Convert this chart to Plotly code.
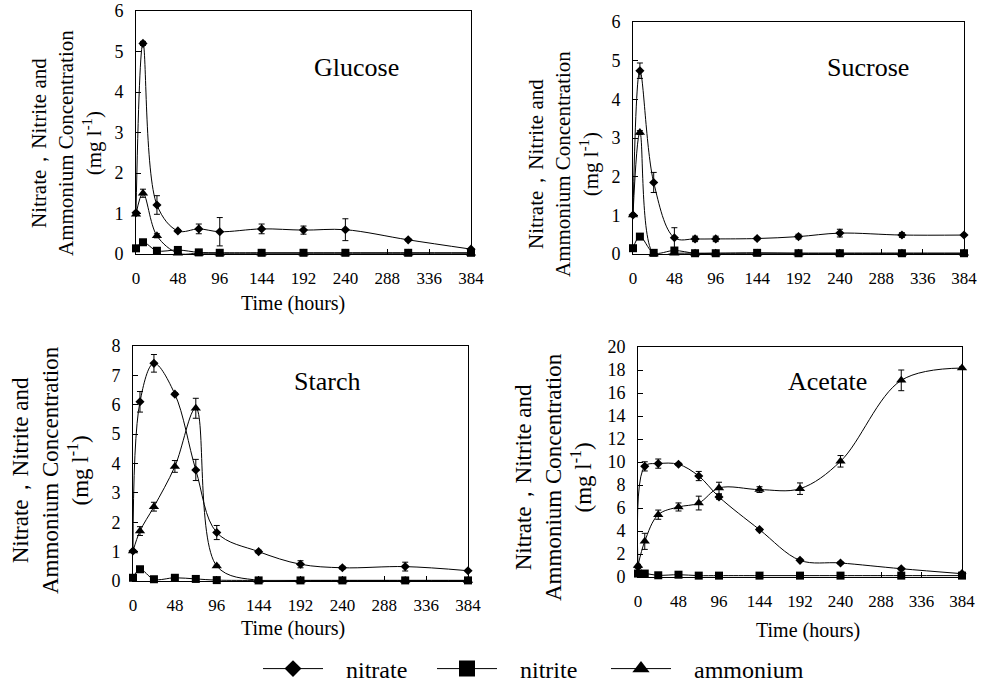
import plotly.graph_objects as go

times = [0, 8, 24, 48, 72, 96, 144, 192, 240, 312, 384]
x_ticks = [0, 48, 96, 144, 192, 240, 288, 336, 384]

# Glucose
glu_nitrate = [1.02, 5.2, 1.21, 0.57, 0.62, 0.55, 0.62, 0.59, 0.6, 0.35, 0.12]
glu_nitrate_err = [0.03, 0.05, 0.23, 0.03, 0.12, 0.35, 0.12, 0.1, 0.27, 0.03, 0.02]
glu_nitrite = [0.14, 0.29, 0.08, 0.1, 0.04, 0.03, 0.03, 0.03, 0.03, 0.03, 0.03]
glu_ammonium = [0.98, 1.5, 0.45, 0.02, 0.02, 0.02, 0.02, 0.02, 0.02, 0.02, 0.02]
glu_ammonium_err = [0.03, 0.1, 0.05, 0, 0, 0, 0, 0, 0, 0, 0]

# Sucrose
suc_nitrate = [1.01, 4.74, 1.85, 0.42, 0.39, 0.39, 0.4, 0.45, 0.54, 0.49, 0.49]
suc_nitrate_err = [0.03, 0.2, 0.26, 0.26, 0.07, 0.07, 0.03, 0.06, 0.1, 0.06, 0.02]
suc_nitrite = [0.15, 0.45, 0.03, 0.09, 0.02, 0.02, 0.03, 0.02, 0.02, 0.02, 0.02]
suc_ammonium = [1.01, 3.14, 0.0, 0.02, 0.02, 0.02, 0.02, 0.02, 0.02, 0.02, 0.02]
suc_ammonium_err = [0.03, 0.05, 0, 0, 0, 0, 0, 0, 0, 0, 0]

# Starch
sta_nitrate = [1.02, 6.1, 7.41, 6.36, 3.78, 1.65, 1.0, 0.57, 0.45, 0.49, 0.35]
sta_nitrate_err = [0.03, 0.35, 0.3, 0.05, 0.36, 0.24, 0.05, 0.12, 0.05, 0.15, 0.03]
sta_nitrite = [0.11, 0.4, 0.06, 0.11, 0.07, 0.03, 0.02, 0.02, 0.02, 0.02, 0.02]
sta_ammonium = [1.02, 1.7, 2.53, 3.9, 5.88, 0.51, 0.02, 0.02, 0.02, 0.02, 0.02]
sta_ammonium_err = [0.03, 0.15, 0.15, 0.2, 0.34, 0.03, 0, 0, 0, 0, 0]

# Acetate
ace_nitrate = [0.87, 9.62, 9.86, 9.8, 8.78, 6.96, 4.12, 1.45, 1.22, 0.72, 0.29]
ace_nitrate_err = [0.1, 0.4, 0.4, 0.1, 0.4, 0.2, 0.1, 0.1, 0.1, 0.1, 0.1]
ace_nitrite = [0.3, 0.3, 0.15, 0.2, 0.12, 0.12, 0.12, 0.12, 0.12, 0.12, 0.12]
ace_ammonium = [1.0, 3.1, 5.42, 6.09, 6.43, 7.74, 7.6, 7.68, 10.06, 17.1, 18.17]
ace_ammonium_err = [0.1, 0.7, 0.4, 0.35, 0.6, 0.5, 0.25, 0.5, 0.5, 0.9, 0.1]

panels = [
    ("Glucose", glu_nitrate, glu_nitrate_err, glu_nitrite, glu_ammonium, glu_ammonium_err, 6, 1),
    ("Sucrose", suc_nitrate, suc_nitrate_err, suc_nitrite, suc_ammonium, suc_ammonium_err, 6, 1),
    ("Starch", sta_nitrate, sta_nitrate_err, sta_nitrite, sta_ammonium, sta_ammonium_err, 8, 1),
    ("Acetate", ace_nitrate, ace_nitrate_err, ace_nitrite, ace_ammonium, ace_ammonium_err, 20, 2),
]

W, H = 982, 682
# plot-area pixel boxes: (left, right, top, bottom)
boxes = [(136, 471, 11, 254), (633, 964, 22, 254), (133, 468, 346, 581), (638, 962, 347, 577)]

FONT = "Liberation Serif"
fig = go.Figure()

for i, (name, nit, nit_e, nitr, amm, amm_e, ymax, dt) in enumerate(panels):
    xa = "x" if i == 0 else f"x{i+1}"
    ya = "y" if i == 0 else f"y{i+1}"
    common = dict(x=times, mode="lines+markers", line=dict(color="black", width=1, shape="spline"),
                  xaxis=xa, yaxis=ya, showlegend=False, cliponaxis=False)
    fig.add_trace(go.Scatter(y=nit, name="nitrate",
                             marker=dict(symbol="diamond", size=7, color="black"),
                             error_y=dict(type="data", array=nit_e, color="black", thickness=1, width=3),
                             **common))
    fig.add_trace(go.Scatter(y=nitr, name="nitrite",
                             marker=dict(symbol="square", size=8, color="black"),
                             **common))
    fig.add_trace(go.Scatter(y=amm, name="ammonium",
                             marker=dict(symbol="triangle-up", size=9, color="black"),
                             error_y=dict(type="data", array=amm_e, color="black", thickness=1, width=3),
                             **common))

# legend-only entries (leading non-breaking spaces set the symbol-to-text gap)
NB = "\u00a0\u00a0\u00a0"
for nm, sym, sz in [("nitrate", "diamond", 13), ("nitrite", "square", 16), ("ammonium", "triangle-up", 15)]:
    fig.add_trace(go.Scatter(x=[None], y=[None], name=NB + nm, mode="lines+markers",
                             line=dict(color="black", width=1),
                             marker=dict(symbol=sym, size=sz, color="black"), showlegend=True))
# empty, invisible spacer entry so the last legend label is not clipped
fig.add_trace(go.Scatter(x=[None], y=[None], name=" ", mode="markers",
                         marker=dict(color="rgba(0,0,0,0)", size=1), showlegend=True, hoverinfo="skip"))

layout = dict(width=W, height=H, margin=dict(l=0, r=0, t=0, b=0, autoexpand=False),
              paper_bgcolor="white", plot_bgcolor="white",
              font=dict(family=FONT, color="black"))

for i, (name, nit, nit_e, nitr, amm, amm_e, ymax, dt) in enumerate(panels):
    l, r, t, b = boxes[i]
    xk = "xaxis" if i == 0 else f"xaxis{i+1}"
    yk = "yaxis" if i == 0 else f"yaxis{i+1}"
    ya = "y" if i == 0 else f"y{i+1}"
    xa = "x" if i == 0 else f"x{i+1}"
    layout[xk] = dict(domain=[l / W, r / W], anchor=ya, range=[0, 384], tickvals=x_ticks,
                      ticks="inside", ticklen=5, tickcolor="black", showline=True, linecolor="black",
                      linewidth=1, mirror=True, showgrid=False, zeroline=False,
                      tickfont=dict(size=17, family=FONT), ticklabelstandoff=9)
    layout[yk] = dict(domain=[1 - b / H, 1 - t / H], anchor=xa, range=[0, ymax], dtick=dt,
                      ticks="inside", ticklen=5, tickcolor="black", showline=True, linecolor="black",
                      linewidth=1, mirror=True, showgrid=False, zeroline=False,
                      tickfont=dict(size=18, family=FONT), ticklabelstandoff=8)

ytitle = "Nitrate，Nitrite and<br>Ammonium Concentration<br>(mg l<sup>-1</sup>)"
ytitle_pos = [(66, 143, 21), (563, 164, 21), (50, 470, 23), (553, 477, 23)]
label_pos = [(356, 67), (868, 67), (327, 382), (827, 382)]
time_pos = [(293, 303), None, (293, 628), (808, 630)]

ann = []
for i, (name, *_rest) in enumerate(panels):
    px, py, fs = ytitle_pos[i]
    ann.append(dict(text=ytitle, x=px / W, y=1 - py / H, xref="paper", yref="paper",
                    showarrow=False, textangle=-90, font=dict(size=fs, family=FONT),
                    xanchor="center", yanchor="middle"))
    lx, ly = label_pos[i]
    ann.append(dict(text=name, x=lx / W, y=1 - ly / H, xref="paper", yref="paper",
                    showarrow=False, font=dict(size=26, family=FONT),
                    xanchor="center", yanchor="middle"))
    if time_pos[i]:
        tx, ty = time_pos[i]
        ann.append(dict(text="Time (hours)", x=tx / W, y=1 - ty / H, xref="paper", yref="paper",
                        showarrow=False, font=dict(size=20, family=FONT),
                        xanchor="center", yanchor="middle"))
layout["annotations"] = ann
layout["legend"] = dict(orientation="h", x=258 / W, xanchor="left", y=1 - 669 / H, yanchor="middle",
                        font=dict(size=24, family=FONT), itemwidth=60, entrywidth=99,
                        entrywidthmode="pixels", bgcolor="rgba(0,0,0,0)")
fig.update_layout(**layout)
fig.write_html("out.html", config={"displayModeBar": False},
               post_script="document.body.style.margin='0';document.body.style.overflow='hidden';")
